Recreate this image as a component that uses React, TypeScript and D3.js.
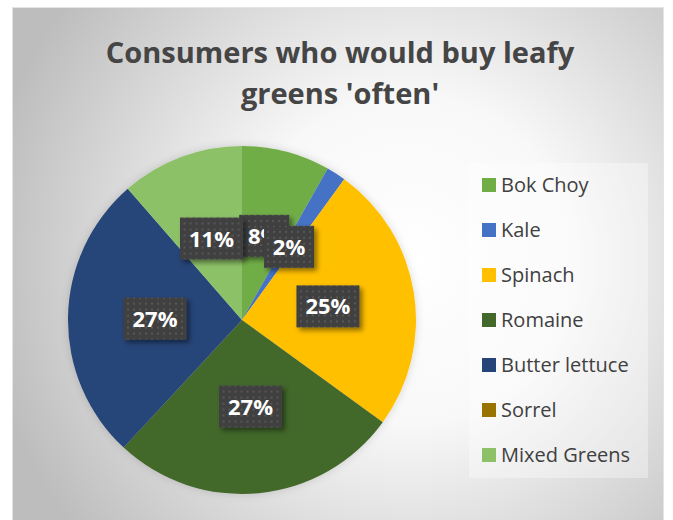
import React from "react";
import * as d3 from "d3";

const categories = ["Bok Choy", "Kale", "Spinach", "Romaine", "Butter lettuce", "Sorrel", "Mixed Greens"];
const values = [8.2, 1.8, 25, 26.9, 26.7, 0, 11.4];
const colors = ["#70AD47", "#4472C4", "#FFC000", "#43682B", "#264478", "#997300", "#8CC168"];
const titleLines = ["Consumers who would buy leafy", "greens 'often'"];

const W = 673;
const H = 520;
const cx = 242;
const cy = 320;
const R = 174;

export default function App() {
  const pie = d3.pie<number>().sort(null).value((d) => d)(values);
  const arc = d3.arc<d3.PieArcDatum<number>>().innerRadius(0).outerRadius(R);
  const total = d3.sum(values);
  const fmt = (v: number) => `${Math.round((v / total) * 100)}%`;

  const legendY = d3.scalePoint<string>().domain(categories).range([185, 455]);

  return (
    <svg
      width={W}
      height={H}
      style={{ position: "absolute", left: 0, top: 0, fontFamily: "'Open Sans', sans-serif" }}
    >
      <defs>
        <radialGradient id="bg" cx="410" cy="260" r="430" gradientUnits="userSpaceOnUse">
          <stop offset="0" stopColor="#ffffff" />
          <stop offset="0.38" stopColor="#f8f8f8" />
          <stop offset="1" stopColor="#bdbdbd" />
        </radialGradient>
        <pattern id="dots" width="6" height="6" patternUnits="userSpaceOnUse">
          <rect width="6" height="6" fill="#404040" />
          <rect x="2" y="2" width="2" height="2" fill="#575757" />
        </pattern>
        <filter id="boxShadow" x="-30%" y="-30%" width="160%" height="160%">
          <feDropShadow dx="3" dy="3" stdDeviation="2.5" floodColor="#000" floodOpacity="0.45" />
        </filter>
        <filter id="pieShadow" x="-20%" y="-20%" width="140%" height="140%">
          <feDropShadow dx="0" dy="0" stdDeviation="4" floodColor="#000" floodOpacity="0.15" />
        </filter>
      </defs>
      <rect x={0} y={0} width={W} height={H} fill="#ffffff" />
      <rect x={12.5} y={7.5} width={651} height={530} fill="url(#bg)" stroke="#e4e4e4" strokeWidth={1} />

      {titleLines.map((t, i) => (
        <text
          key={t}
          x={340}
          y={63 + i * 41}
          textAnchor="middle"
          fontSize={29}
          fontWeight={700}
          fill="#454545"
        >
          {t}
        </text>
      ))}

      <g transform={`translate(${cx},${cy})`} filter="url(#pieShadow)">
        {pie.map((d, i) => (
          <path key={categories[i]} d={arc(d) || ""} fill={colors[i]} />
        ))}
      </g>

      <g transform={`translate(${cx},${cy})`}>
        {pie.map((d, i) => {
          if (values[i] === 0) return null;
          const [x, y] = arc.centroid(d);
          const label = fmt(values[i]);
          const bw = label.length >= 3 ? 63 : 50;
          const bh = 42;
          return (
            <g key={categories[i]} transform={`translate(${x},${y})`}>
              <rect x={-bw / 2} y={-bh / 2} width={bw} height={bh} fill="url(#dots)" filter="url(#boxShadow)" />
              <text
                x={0}
                y={8}
                textAnchor="middle"
                fontSize={22}
                fontWeight={700}
                fill="#ffffff"
              >
                {label}
              </text>
            </g>
          );
        })}
      </g>

      <rect x={469} y={163} width={179} height={315} fill="#ffffff" fillOpacity={0.35} />
      {categories.map((c, i) => {
        const y = legendY(c) || 0;
        return (
          <g key={c}>
            <rect x={482} y={y - 7} width={14} height={14} fill={colors[i]} />
            <text x={501} y={y + 7} fontSize={20} fill="#404040">
              {c}
            </text>
          </g>
        );
      })}
    </svg>
  );
}
